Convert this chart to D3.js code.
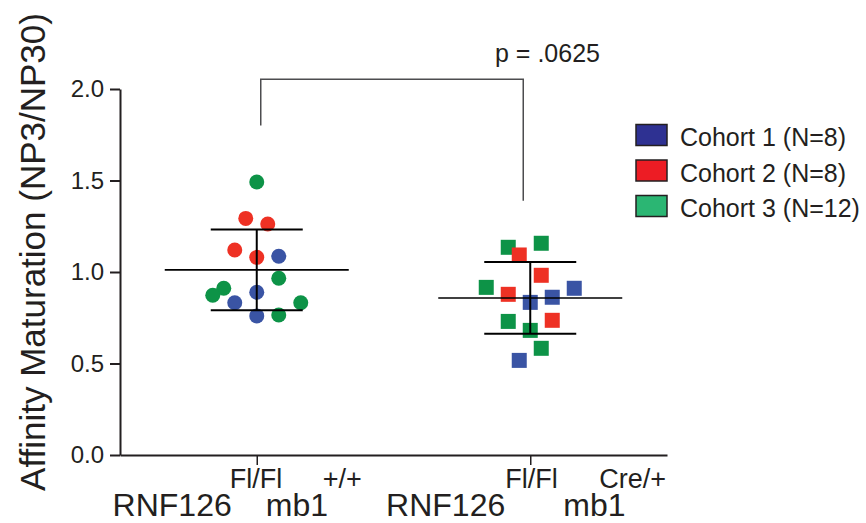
<!DOCTYPE html>
<html>
<head>
<meta charset="utf-8">
<script src="https://cdn.jsdelivr.net/npm/d3@7"></script>
<style>
  html, body { margin: 0; padding: 0; background: #fff; }
  svg { display: block; font-family: "Liberation Sans", Arial, Helvetica, sans-serif; }
</style>
</head>
<body>
<svg id="chart" width="866" height="523"></svg>
<script>
// ---- data ----
const groups = ["control", "knockout"];
const geneLabels = ["RNF126", "RNF126"];
const geneSup = ["Fl/Fl", "Fl/Fl"];
const driverLabels = ["mb1", "mb1"];
const driverSup = ["+/+", "Cre/+"];

const cohorts = ["Cohort 1 (N=8)", "Cohort 2 (N=8)", "Cohort 3 (N=12)"];

// control animals: value, cohort index (0-2), scatter lane
const controlValues = [1.492, 1.293, 1.262, 1.120, 1.080, 1.086, 0.966, 0.911, 0.873, 0.889, 0.832, 0.832, 0.760, 0.765];
const controlCohort = [2, 1, 1, 1, 1, 0, 2, 2, 2, 0, 0, 2, 0, 2];
const controlLane   = [0, -1, 1, -2, 0, 2, 2, -3, -4, 0, -2, 4, 0, 2];

// knockout animals
const knockoutValues = [1.135, 1.157, 1.093, 0.982, 0.916, 0.911, 0.878, 0.862, 0.834, 0.730, 0.736, 0.681, 0.583, 0.517];
const knockoutCohort = [2, 2, 1, 1, 2, 0, 1, 0, 0, 2, 1, 2, 2, 0];
const knockoutLane   = [-2, 1, -1, 1, -4, 4, -2, 2, 0, -2, 2, 0, 1, -1];

const yTicks = [0, 0.5, 1.0, 1.5, 2.0];
const pLabel = "p = .0625";
const bracketTop = 2.053, bracketLeftEnd = 1.80, bracketRightEnd = 1.39;

// ---- styles ----
const markColors = ["#3A54A4", "#EE3124", "#0D9347"];
const legendColors = ["#2E3192", "#ED1C24", "#2BB673"];
const ink = "#231F20";

const svg = d3.select("#chart");

const y = d3.scaleLinear().domain([0, 2]).range([455, 89]);
const x = d3.scalePoint().domain(groups).range([120, 667]).padding(0.5);
const lane = d3.scaleLinear().domain([-4, 4]).range([-44, 44]);

const sets = [
  { key: groups[0], values: controlValues, cohort: controlCohort, lane: controlLane, shape: "circle" },
  { key: groups[1], values: knockoutValues, cohort: knockoutCohort, lane: knockoutLane, shape: "square" }
];

// ---- axes ----
const yAxis = svg.append("g")
  .attr("transform", `translate(${x.range()[0]},0)`)
  .call(d3.axisLeft(y).tickValues(yTicks).tickFormat(d3.format(".1f")).tickSize(10).tickSizeOuter(0).tickPadding(6));
yAxis.select(".domain").attr("stroke", ink).attr("stroke-width", 2);
yAxis.selectAll(".tick line").attr("stroke", ink).attr("stroke-width", 2);
yAxis.selectAll(".tick text")
  .attr("fill", ink)
  .attr("font-size", 24)
  .attr("font-family", "Liberation Sans, Arial, sans-serif");

const xAxis = svg.append("g")
  .attr("transform", `translate(0,${y(0)})`)
  .call(d3.axisBottom(x).tickSize(10).tickSizeOuter(0).tickFormat(""));
xAxis.select(".domain").attr("stroke", ink).attr("stroke-width", 2);
xAxis.selectAll(".tick line").attr("stroke", ink).attr("stroke-width", 1.5);

// category labels (gene with superscript genotype, driver with superscript allele)
const labelLayout = [
  { gene: -25, geneSup: -27, driver: 9, driverSup: 66 },
  { gene: -25, geneSup: -25, driver: 33, driverSup: 69 }
];
groups.forEach((g, i) => {
  const cx = x(g), L = labelLayout[i];
  const lg = svg.append("g").attr("fill", ink);
  lg.append("text").attr("x", cx + L.gene).attr("y", 516).attr("text-anchor", "end")
    .attr("font-size", 32).text(geneLabels[i]);
  lg.append("text").attr("x", cx + L.geneSup).attr("y", 488)
    .attr("font-size", 27).text(geneSup[i]);
  lg.append("text").attr("x", cx + L.driver).attr("y", 516)
    .attr("font-size", 32).text(driverLabels[i]);
  lg.append("text").attr("x", cx + L.driverSup).attr("y", 488)
    .attr("font-size", 27).text(driverSup[i]);
});

// y axis title
svg.append("text")
  .attr("transform", `translate(45,${(y(0) + y(2)) / 2 - 20}) rotate(-90)`)
  .attr("text-anchor", "middle")
  .attr("fill", ink)
  .attr("font-size", 35)
  .text("Affinity Maturation (NP3/NP30)");

// ---- points ----
sets.forEach(s => {
  const cx = x(s.key);
  const pts = s.values.map((v, i) => ({ v, c: s.cohort[i], l: s.lane[i] }));
  if (s.shape === "circle") {
    svg.append("g").selectAll("circle").data(pts).join("circle")
      .attr("cx", d => cx + lane(d.l))
      .attr("cy", d => y(d.v))
      .attr("r", 7.5)
      .attr("fill", d => markColors[d.c]);
  } else {
    const side = 15;
    svg.append("g").selectAll("rect").data(pts).join("rect")
      .attr("x", d => cx + lane(d.l) - side / 2)
      .attr("y", d => y(d.v) - side / 2)
      .attr("width", side)
      .attr("height", side)
      .attr("fill", d => markColors[d.c]);
  }
});

// ---- mean and SD bars ----
sets.forEach(s => {
  const cx = x(s.key);
  const m = d3.mean(s.values), sd = d3.deviation(s.values);
  const g = svg.append("g").attr("stroke", "#000").attr("fill", "none");
  g.append("line").attr("x1", cx - 92).attr("x2", cx + 92)
    .attr("y1", y(m)).attr("y2", y(m)).attr("stroke-width", 1.6);
  g.append("line").attr("x1", cx).attr("x2", cx)
    .attr("y1", y(m + sd)).attr("y2", y(m - sd)).attr("stroke-width", 2);
  [m + sd, m - sd].forEach(v => {
    g.append("line").attr("x1", cx - 46).attr("x2", cx + 46)
      .attr("y1", y(v)).attr("y2", y(v)).attr("stroke-width", 2);
  });
});

// ---- significance bracket ----
const bx1 = x(groups[0]) + 4, bx2 = x(groups[1]) - 7;
svg.append("path")
  .attr("d", `M${bx1},${y(bracketLeftEnd)}V${y(bracketTop)}H${bx2}V${y(bracketRightEnd)}`)
  .attr("fill", "none")
  .attr("stroke", "#4d4d4f")
  .attr("stroke-width", 1.5);
svg.append("text")
  .attr("x", 547.5).attr("y", 62)
  .attr("text-anchor", "middle")
  .attr("fill", ink)
  .attr("font-size", 25)
  .text(pLabel);

// ---- legend ----
const legend = svg.append("g").attr("transform", "translate(636,124.5)");
cohorts.forEach((c, i) => {
  const row = legend.append("g").attr("transform", `translate(0,${i * 35.5})`);
  row.append("rect").attr("width", 31).attr("height", 21)
    .attr("fill", legendColors[i]).attr("stroke", ink).attr("stroke-width", 1.5);
  row.append("text").attr("x", 44).attr("y", 21.5)
    .attr("fill", ink).attr("font-size", 25).text(c);
});
</script>
</body>
</html>
